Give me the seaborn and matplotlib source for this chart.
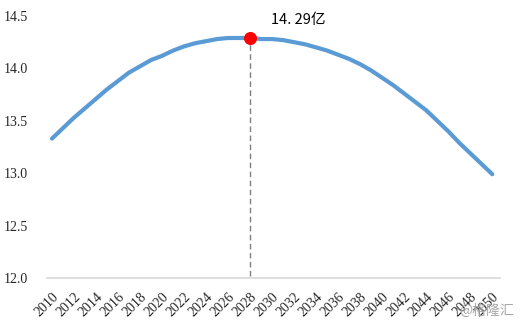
import matplotlib
matplotlib.use("Agg")
import matplotlib.pyplot as plt
import seaborn as sns
import pandas as pd

years = list(range(2010, 2051))
population = [13.33, 13.43, 13.53, 13.62, 13.71, 13.80, 13.88, 13.96, 14.02, 14.08,
              14.12, 14.17, 14.21, 14.24, 14.26, 14.28, 14.29, 14.29, 14.29, 14.28,
              14.28, 14.27, 14.25, 14.23, 14.20, 14.17, 14.13, 14.09, 14.04, 13.98,
              13.91, 13.84, 13.76, 13.68, 13.60, 13.50, 13.40, 13.29, 13.19, 13.09,
              12.99]
peak_year = 2028
peak_value = 14.29
peak_label = "14. 29亿"
y_ticks = [12.0, 12.5, 13.0, 13.5, 14.0, 14.5]
x_ticks = list(range(2010, 2051, 2))
watermark = "@格隆汇"

sns.set_theme(style="white")
plt.rcParams['font.family'] = ['Liberation Serif', 'DejaVu Sans']

df = pd.DataFrame({"year": years, "pop": population})

fig = plt.figure(figsize=(5.2, 3.25), dpi=100)
ax = fig.add_axes([47/520, 47/325, 453/520, 262/325])

sns.lineplot(data=df, x="year", y="pop", ax=ax, color="#5B9BD5", linewidth=3,
             solid_capstyle="round")

ax.vlines(peak_year, 12.02, peak_value, colors="#7f7f7f", linestyles=(0, (4, 2.5)),
          linewidth=1)
ax.scatter([peak_year], [peak_value], s=70, color="#FF0000", zorder=5)
ax.text(peak_year + 1.9, peak_value + 0.17, peak_label, fontsize=10.5,
        family=['Noto Sans CJK SC', 'DejaVu Sans'], va="center", ha="left",
        color="black")

ax.set_xlim(2009.55, 2050.7)
ax.set_ylim(12.0, 14.5)
ax.set_yticks(y_ticks)
ax.set_yticklabels([f"{v:.1f}" for v in y_ticks], fontsize=10)
ax.set_xticks(x_ticks)
ax.set_xticklabels([str(x) for x in x_ticks], rotation=45, ha="right",
                   rotation_mode="anchor", fontsize=10)
ax.tick_params(axis="x", length=0, pad=9)
ax.tick_params(axis="y", length=0, pad=14)
ax.set_xlabel("")
ax.set_ylabel("")
for s in ["top", "right", "left"]:
    ax.spines[s].set_visible(False)
ax.spines["bottom"].set_color("#d9d9d9")
ax.spines["bottom"].set_linewidth(1.2)
ax.grid(False)

fig.text(514/520, 1 - 311/325, watermark, ha="right", va="center", fontsize=10,
         color="#a6a6a6", family=['Noto Sans CJK SC', 'DejaVu Sans'])

fig.savefig("out.png", dpi=100)
